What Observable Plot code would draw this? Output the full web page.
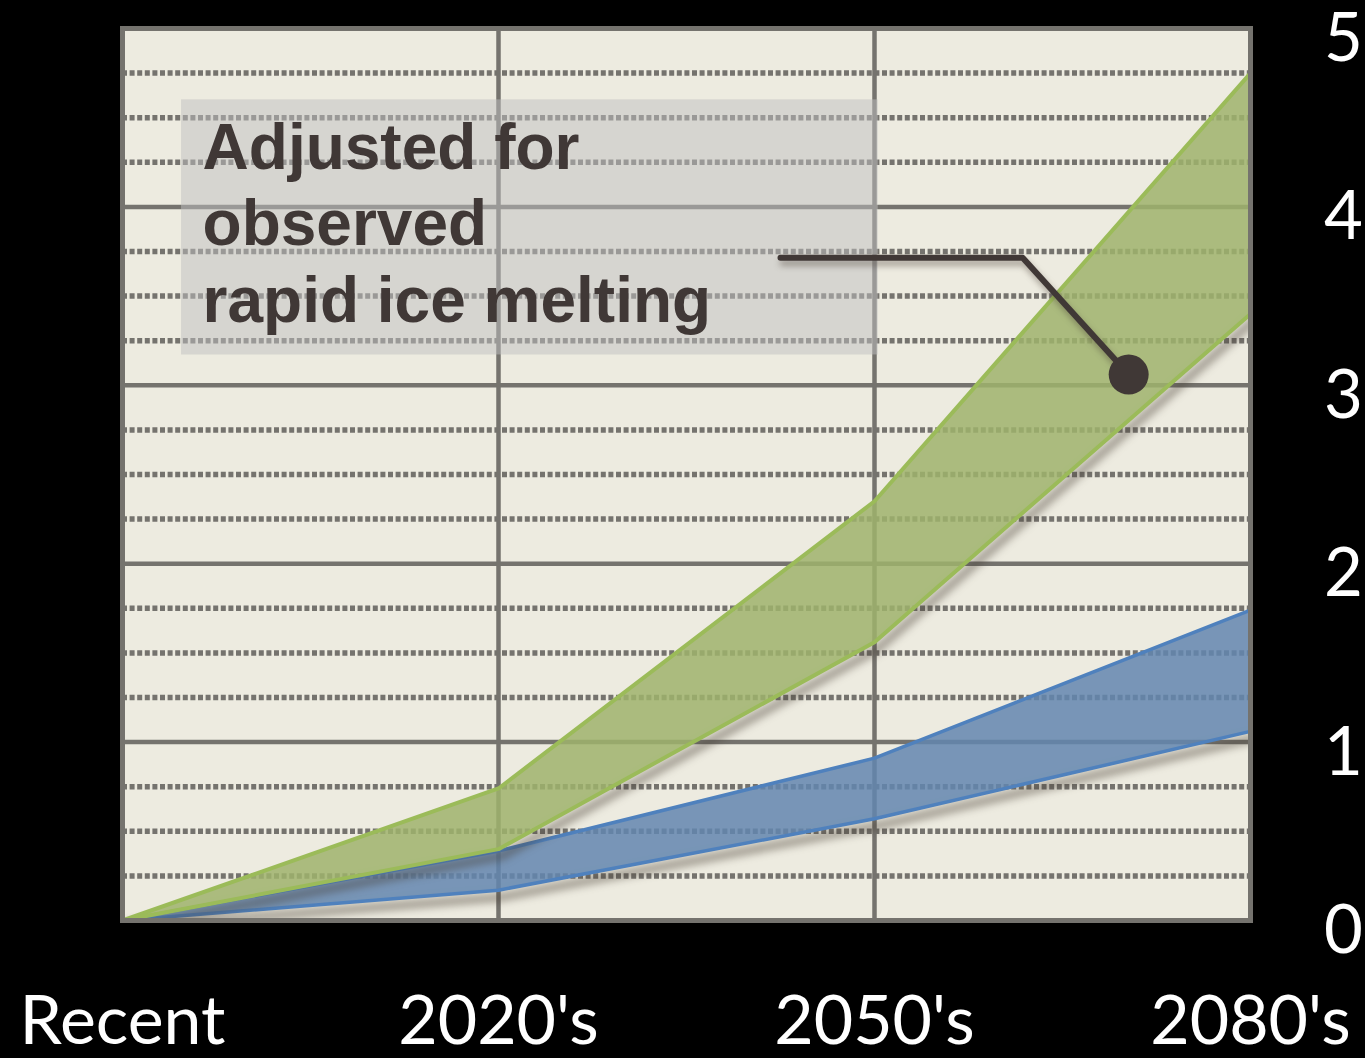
<!DOCTYPE html>
<html>
<head>
<meta charset="utf-8">
<script src="https://cdn.jsdelivr.net/npm/d3@7"></script>
<script src="https://cdn.jsdelivr.net/npm/@observablehq/plot@0.6"></script>
<style>
  html, body { margin: 0; padding: 0; background: #000; }
  #chart svg { display: block; }
</style>
</head>
<body>
<div id="chart"></div>
<script>
// ---- data ----
const periods = ["Recent", "2020's", "2050's", "2080's"];
const greenHigh = [0, 0.74, 2.35, 4.75];
const greenLow  = [0, 0.40, 1.56, 3.40];
const blueHigh  = [0, 0.39, 0.91, 1.74];
const blueLow   = [0, 0.17, 0.57, 1.06];
const yTicks = [0, 1, 2, 3, 4, 5];
const yMinor = [0.25, 0.5, 0.75, 1.25, 1.5, 1.75, 2.25, 2.5, 2.75, 3.25, 3.5, 3.75, 4.25, 4.5, 4.75];
const noteText = "Adjusted for\nobserved\nrapid ice melting";

// table for the library
const rows = periods.map((p, i) => ({
  i, period: p,
  gHigh: greenHigh[i], gLow: greenLow[i],
  bHigh: blueHigh[i], bLow: blueLow[i]
}));

// annotation geometry (data units)
const noteBox = [{x1: 0.157, x2: 2.01, y1: 3.17, y2: 4.60}];
const leader = [{x: 1.75, y: 3.715}, {x: 2.394, y: 3.715}, {x: 2.676, y: 3.06}];
const leaderEnd = [leader[leader.length - 1]];

const gridColor = "#75736e";
const ink = "#403836";
const shadow = {stroke: "rgba(70,60,50,0.55)", strokeWidth: 7, dx: 3, dy: 7, imageFilter: "blur(4px)"};

const chart = Plot.plot({
  width: 1365,
  height: 1058,
  marginLeft: 122,
  marginRight: 115,
  marginTop: 28,
  marginBottom: 138,
  style: {background: "#000", color: "#fff", fontFamily: "Lato, sans-serif", overflow: "visible"},
  x: {domain: [0, 3]},
  y: {domain: [0, 5]},
  marks: [
    Plot.frame({fill: "#edebe0", stroke: null}),
    Plot.ruleY(yMinor, {stroke: gridColor, strokeWidth: 5.5, strokeDasharray: "5,2.6"}),
    Plot.ruleY(yTicks, {stroke: gridColor, strokeWidth: 4.5}),
    Plot.ruleX([1, 2], {stroke: gridColor, strokeWidth: 4.5}),
    // blue band
    Plot.line(rows, {x: "i", y: "bLow", ...shadow, clip: "frame"}),
    Plot.areaY(rows, {x: "i", y1: "bLow", y2: "bHigh", fill: "#6386af", fillOpacity: 0.85}),
    Plot.line(rows, {x: "i", y: "bHigh", stroke: "#4f81bd", strokeWidth: 3.5}),
    Plot.line(rows, {x: "i", y: "bLow", stroke: "#4f81bd", strokeWidth: 3.5}),
    // green band
    Plot.line(rows, {x: "i", y: "gLow", ...shadow, clip: "frame"}),
    Plot.areaY(rows, {x: "i", y1: "gLow", y2: "gHigh", fill: "#9fb36c", fillOpacity: 0.85}),
    Plot.line(rows, {x: "i", y: "gHigh", stroke: "#9bbb59", strokeWidth: 4}),
    Plot.line(rows, {x: "i", y: "gLow", stroke: "#9bbb59", strokeWidth: 4}),
    Plot.frame({stroke: gridColor, strokeWidth: 5}),
    // annotation
    Plot.rect(noteBox, {x1: "x1", x2: "x2", y1: "y1", y2: "y2", fill: "#c0c0c0", fillOpacity: 0.5}),
    Plot.text([noteText], {x: 0.213, y: 4.52, text: d => d, textAnchor: "start", lineAnchor: "top",
      lineHeight: 1.2, fontSize: 64, fontWeight: "bold", fontFamily: "'Liberation Sans', Arial, sans-serif",
      fill: ink}),
    Plot.line(leader, {x: "x", y: "y", stroke: "rgba(70,60,50,0.45)", strokeWidth: 6, dx: 2, dy: 5, imageFilter: "blur(3px)"}),
    Plot.line(leader, {x: "x", y: "y", stroke: ink, strokeWidth: 6}),
    Plot.dot(leaderEnd, {x: "x", y: "y", r: 20, fill: ink, stroke: null}),
    // axes
    Plot.axisX([0, 1, 2, 3], {anchor: "bottom", tickSize: 0, tickPadding: 75, fontSize: 68,
      tickFormat: i => periods[i], fill: "#fff", fontFamily: "Lato, sans-serif"}),
    Plot.axisY(yTicks, {anchor: "right", tickSize: 0, tickPadding: 93, textAnchor: "middle", dy: 11,
      fontSize: 67, fill: "#fff", fontFamily: "Lato, sans-serif", tickFormat: d => String(d)})
  ]
});

document.getElementById("chart").appendChild(chart);
</script>
</body>
</html>
